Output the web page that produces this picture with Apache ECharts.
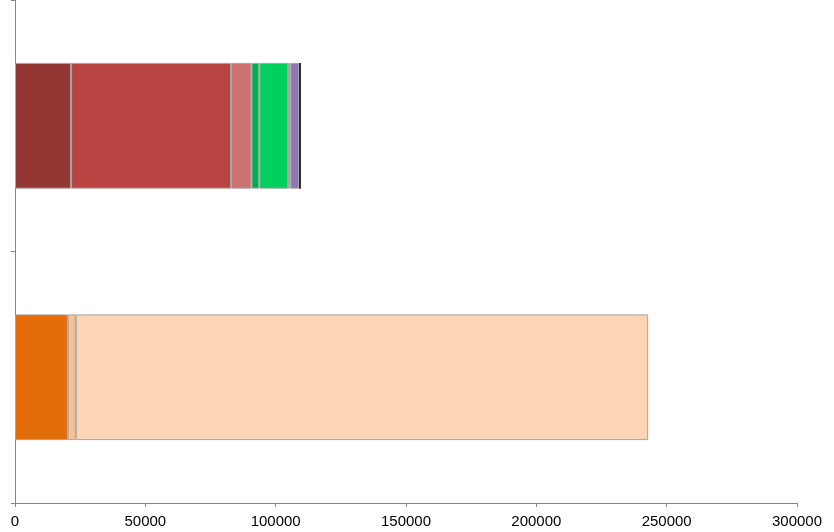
<!DOCTYPE html>
<html>
<head>
<meta charset="utf-8">
<script src="https://cdn.jsdelivr.net/npm/echarts@6/dist/echarts.min.js"></script>
<style>html,body{margin:0;padding:0;background:#fff}#c{width:834px;height:532px}</style>
</head>
<body>
<div id="c"></div>
<script>
// categories: index 0 = bottom bar, index 1 = top bar
const categories = ["B", "A"];
const xTicks = [0, 50000, 100000, 150000, 200000, 250000, 300000];
// top bar segments
const topSeg1 = 21500;
const topSeg2 = 61400;
const topSeg3 = 7800;
const topSeg4 = 3000;
const topSeg5 = 11100;
const topSeg6 = 800;
const topSeg7 = 3400;
const topSeg8 = 650;
// bottom bar segments
const botSeg1 = 20270;
const botSeg2 = 3070;
const botSeg3 = 219560;

const segColors = {
  top: ["#943634", "#b94543", "#cc7270", "#00b050", "#00d15e", "#7d6ba4", "#8e78b2", "#0a0a0a"],
  bot: ["#e46c0a", "#fac090", "#fcd5b5"]
};
const topVals = [topSeg1, topSeg2, topSeg3, topSeg4, topSeg5, topSeg6, topSeg7, topSeg8];
const botVals = [botSeg1, botSeg2, botSeg3];

const series = [];
botVals.forEach((v, i) => {
  series.push({
    type: 'bar', stack: 's', barWidth: '50%',
    data: [v, '-'],
    itemStyle: { color: segColors.bot[i], borderColor: '#a5a5a5', borderWidth: 1 },
    emphasis: { disabled: true }
  });
});
topVals.forEach((v, i) => {
  series.push({
    type: 'bar', stack: 's', barWidth: '50%',
    data: ['-', v],
    itemStyle: { color: segColors.top[i], borderColor: '#a5a5a5', borderWidth: i === 7 ? 0 : 1 },
    emphasis: { disabled: true }
  });
});

const chart = echarts.init(document.getElementById('c'));
chart.setOption({
  animation: false,
  grid: { left: 15, right: 37, top: 0, bottom: 29, containLabel: false },
  xAxis: {
    type: 'value', min: xTicks[0], max: xTicks[xTicks.length - 1], interval: 50000,
    axisLine: { show: true, lineStyle: { color: '#868686', width: 1 } },
    axisTick: { show: true, length: 4, lineStyle: { color: '#868686' } },
    splitLine: { show: false },
    axisLabel: { color: '#000', fontFamily: 'Liberation Sans', fontSize: 15, margin: 11,
      formatter: v => String(v) }
  },
  yAxis: {
    type: 'category', data: categories,
    axisLine: { show: true, lineStyle: { color: '#868686', width: 1 } },
    axisTick: { show: true, length: 4, lineStyle: { color: '#868686' } },
    axisLabel: { show: false }
  },
  series: series
});
</script>
</body>
</html>
